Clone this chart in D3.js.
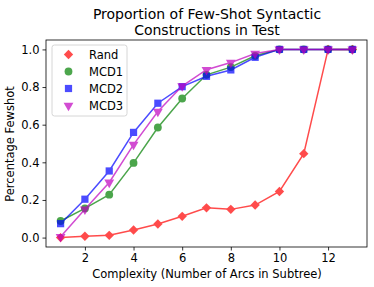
<!DOCTYPE html>
<html>
<head>
<meta charset="utf-8">
<script src="https://cdn.jsdelivr.net/npm/d3@7"></script>
<style>
body { margin: 0; background: #fff; }
text { font-family: "DejaVu Sans", sans-serif; fill: #000; }
</style>
</head>
<body>
<svg id="chart" width="374" height="287"></svg>
<script>
let complexity = [1, 2, 3, 4, 5, 6, 7, 8, 9, 10, 11, 12, 13];
let rand = [0.0, 0.007, 0.012, 0.04, 0.072, 0.113, 0.158, 0.15, 0.173, 0.245, 0.446, 1.0, 1.0];
let mcd1 = [0.088, 0.155, 0.228, 0.397, 0.585, 0.739, 0.865, 0.906, 0.966, 1.0, 1.0, 1.0, 1.0];
let mcd2 = [0.074, 0.204, 0.354, 0.559, 0.714, 0.802, 0.857, 0.891, 0.958, 1.0, 1.0, 1.0, 1.0];
let mcd3 = [0.004, 0.15, 0.293, 0.494, 0.67, 0.805, 0.892, 0.93, 0.978, 1.0, 1.0, 1.0, 1.0];
let xTicks = [2, 4, 6, 8, 10, 12];
let yTicks = [0.0, 0.2, 0.4, 0.6, 0.8, 1.0];

let series = [
	{name: "Rand", values: rand, color: "#ff0000", shape: "diamond"},
	{name: "MCD1", values: mcd1, color: "#008000", shape: "circle"},
	{name: "MCD2", values: mcd2, color: "#0000ff", shape: "square"},
	{name: "MCD3", values: mcd3, color: "#bf00bf", shape: "tri"}
];

let svg = d3.select("#chart");
let pLeft = 46, pRight = 367, pTop = 40, pBottom = 247;

let x = d3.scaleLinear().domain([0.4, 13.6]).range([pLeft, pRight]);
let y = d3.scaleLinear().domain([-0.05, 1.05]).range([pBottom, pTop]);

let symbolPath = function(shape) {
	if (shape == "diamond") return d3.symbol().type(d3.symbolSquare).size(44)();
	if (shape == "circle") return d3.symbol().type(d3.symbolCircle).size(48)();
	if (shape == "square") return d3.symbol().type(d3.symbolSquare).size(52)();
	return d3.symbol().type(d3.symbolTriangle).size(42)();
};
let rot = (shape) => shape == "tri" ? " rotate(180)" : shape == "diamond" ? " rotate(45)" : "";

// axes
let xAxis = d3.axisBottom(x).tickValues(xTicks).tickSize(3.5).tickPadding(3).tickFormat(d3.format("d"));
let yAxis = d3.axisLeft(y).tickValues(yTicks).tickSize(3.5).tickPadding(3).tickFormat(d3.format(".1f"));

let gx = svg.append("g").attr("transform", `translate(0,${pBottom})`).call(xAxis);
let gy = svg.append("g").attr("transform", `translate(${pLeft},0)`).call(yAxis);
[gx, gy].forEach(g => {
	g.select(".domain").remove();
	g.selectAll("text").style("font-size", "11.5px").style("font-family", "DejaVu Sans");
	g.selectAll("line").attr("stroke", "#000").attr("stroke-width", 0.8);
});

// lines and markers
let line = d3.line().x((d, i) => x(complexity[i])).y(d => y(d));
for (let s of series) {
	let g = svg.append("g").attr("opacity", 0.7);
	g.append("path")
		.attr("d", line(s.values))
		.attr("fill", "none")
		.attr("stroke", s.color)
		.attr("stroke-width", 1.5);
	g.selectAll("path.m")
		.data(s.values)
		.enter().append("path")
		.attr("class", "m")
		.attr("d", symbolPath(s.shape))
		.attr("transform", (d, i) => `translate(${x(complexity[i])},${y(d)})` + rot(s.shape))
		.attr("fill", s.color);
}

// frame
svg.append("rect")
	.attr("x", pLeft).attr("y", pTop)
	.attr("width", pRight - pLeft).attr("height", pBottom - pTop)
	.attr("fill", "none").attr("stroke", "#000").attr("stroke-width", 0.8);

// legend
let lg = svg.append("g");
lg.append("rect")
	.attr("x", 52).attr("y", 45).attr("width", 75).attr("height", 71).attr("rx", 2.5)
	.attr("fill", "#fff").attr("fill-opacity", 0.8)
	.attr("stroke", "#ccc").attr("stroke-width", 0.8);
series.forEach((s, i) => {
	let ly = 54.5 + i * 17;
	lg.append("path")
		.attr("d", symbolPath(s.shape))
		.attr("transform", `translate(68.5,${ly})` + rot(s.shape))
		.attr("fill", s.color).attr("opacity", 0.7);
	lg.append("text")
		.attr("x", 89).attr("y", ly + 4)
		.style("font-size", "11.5px")
		.text(s.name);
});

// title and labels
svg.append("text").attr("x", 207).attr("y", 19).attr("text-anchor", "middle")
	.style("font-size", "14px").text("Proportion of Few-Shot Syntactic");
svg.append("text").attr("x", 207).attr("y", 35).attr("text-anchor", "middle")
	.style("font-size", "14px").text("Constructions in Test");
svg.append("text").attr("x", 207).attr("y", 278).attr("text-anchor", "middle")
	.style("font-size", "11.5px").text("Complexity (Number of Arcs in Subtree)");
svg.append("text").attr("transform", "translate(14,144) rotate(-90)").attr("text-anchor", "middle")
	.style("font-size", "11.5px").text("Percentage Fewshot");
</script>
</body>
</html>
